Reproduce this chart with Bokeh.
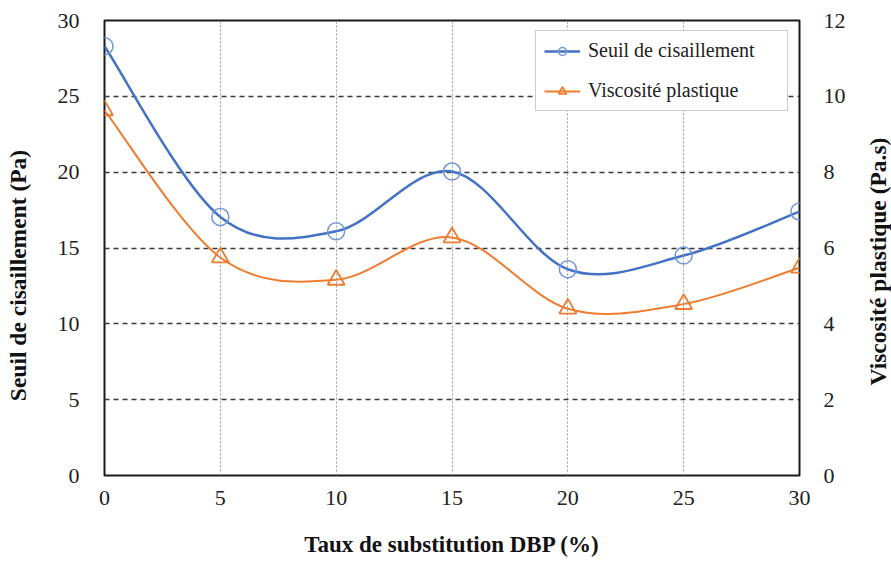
import math
from bokeh.plotting import figure
from bokeh.models import Range1d, LinearAxis, SingleIntervalTicker, Legend, LegendItem, Label
from bokeh.embed import file_html
from bokeh.resources import INLINE

# ---- data ----
taux = [0, 5, 10, 15, 20, 25, 30]
seuil = [28.3, 17.05, 16.1, 20.05, 13.6, 14.5, 17.4]
viscosite = [9.63, 5.75, 5.16, 6.28, 4.4, 4.52, 5.48]
x_ticks = [0, 5, 10, 15, 20, 25, 30]
left_ticks = [0, 5, 10, 15, 20, 25, 30]
right_ticks = [0, 2, 4, 6, 8, 10, 12]

x_title = "Taux de substitution DBP (%)"
left_title = "Seuil de cisaillement (Pa)"
right_title = "Viscosité plastique (Pa.s)"

BLUE = "#4472C4"
BLUE_MK = "#7097DA"
ORANGE = "#ED7D31"
FONT = "Liberation Serif"


def smooth_segments(xs, ys):
    """Catmull-Rom style Bezier control points (Excel-like smoothing)."""
    n = len(xs)
    out = dict(x0=[], y0=[], x1=[], y1=[], cx0=[], cy0=[], cx1=[], cy1=[])
    for i in range(n - 1):
        xp, yp = (xs[i - 1], ys[i - 1]) if i > 0 else (xs[i], ys[i])
        xn2, yn2 = (xs[i + 2], ys[i + 2]) if i + 2 < n else (xs[i + 1], ys[i + 1])
        out["x0"].append(xs[i]); out["y0"].append(ys[i])
        out["x1"].append(xs[i + 1]); out["y1"].append(ys[i + 1])
        out["cx0"].append(xs[i] + (xs[i + 1] - xp) / 6.0)
        out["cy0"].append(ys[i] + (ys[i + 1] - yp) / 6.0)
        out["cx1"].append(xs[i + 1] - (xn2 - xs[i]) / 6.0)
        out["cy1"].append(ys[i + 1] - (yn2 - ys[i]) / 6.0)
    return out


p = figure(width=891, height=562, output_backend="svg", toolbar_location=None,
           x_range=Range1d(0, 30), y_range=Range1d(0, 30),
           min_border_left=104, min_border_right=92, min_border_top=20, min_border_bottom=87)
p.extra_y_ranges = {"right": Range1d(0, 12)}

p.outline_line_color = "#1a1a1a"
p.outline_line_width = 2
p.background_fill_color = "white"
p.border_fill_color = "white"

# grids
p.xgrid.ticker = SingleIntervalTicker(interval=5)
p.ygrid.ticker = SingleIntervalTicker(interval=5)
p.xgrid.grid_line_color = "#9a9a9a"
p.xgrid.grid_line_dash = "2 2"
p.xgrid.grid_line_width = 1
p.ygrid.grid_line_color = "#3a3a3a"
p.ygrid.grid_line_dash = "5 4"
p.ygrid.grid_line_width = 1.5

# axes
p.xaxis.ticker = x_ticks
p.yaxis.ticker = left_ticks
raxis = LinearAxis(y_range_name="right", ticker=right_ticks)
p.add_layout(raxis, "right")

p.xaxis.axis_label = x_title

for ax in [p.xaxis[0], p.yaxis[0], raxis]:
    ax.axis_line_color = None
    ax.major_tick_line_color = None
    ax.minor_tick_line_color = None
    ax.major_label_text_font = FONT
    ax.major_label_text_font_size = "22px"
    ax.major_label_text_color = "#222222"
    ax.axis_label_text_font = FONT
    ax.axis_label_text_font_style = "bold"
    ax.axis_label_text_color = "#111111"

p.xaxis.axis_label_text_font_size = "23px"
p.xaxis.major_label_standoff = 9
p.xaxis.axis_label_standoff = 24
p.yaxis.major_label_standoff = 19
raxis.major_label_standoff = 18

# vertical axis titles as side-panel labels (read bottom to top)
title_style = dict(text_font=FONT, text_font_style="bold", text_color="#111111",
                   text_font_size="23.5px", text_align="center", text_baseline="middle",
                   angle=math.pi / 2, x_units="screen", y_units="screen")
left_lbl = Label(x=-11, y=200, text=left_title, **title_style)
right_lbl = Label(x=29, y=214, text=right_title, **title_style)
p.add_layout(left_lbl, "left")
p.add_layout(right_lbl, "right")

# series 1 (left axis)
s1 = smooth_segments(taux, seuil)
b1 = p.bezier(x0="x0", y0="y0", x1="x1", y1="y1", cx0="cx0", cy0="cy0", cx1="cx1", cy1="cy1",
              source=s1, line_color=BLUE, line_width=2.5)
m1 = p.scatter(taux, seuil, marker="circle", size=17, fill_color=None,
               line_color=BLUE_MK, line_width=1.5)

# series 2 (right axis)
s2 = smooth_segments(taux, viscosite)
b2 = p.bezier(x0="x0", y0="y0", x1="x1", y1="y1", cx0="cx0", cy0="cy0", cx1="cx1", cy1="cy1",
              source=s2, line_color=ORANGE, line_width=2, y_range_name="right")
m2 = p.scatter(taux, viscosite, marker="triangle", size=17, fill_color=None,
               line_color=ORANGE, line_width=1.8, y_range_name="right")

legend = Legend(items=[LegendItem(label="Seuil de cisaillement", renderers=[b1, m1]),
                       LegendItem(label="Viscosité plastique", renderers=[b2, m2])],
                location=(431, 364))
legend.label_text_font = FONT
legend.label_text_font_size = "20px"
legend.label_text_color = "#222222"
legend.border_line_color = "#999999"
legend.border_line_width = 1.5
legend.background_fill_alpha = 1
legend.padding = 8
legend.spacing = 17
legend.glyph_height = 20
legend.label_height = 20
legend.glyph_width = 36
legend.label_standoff = 8
legend.label_width = 191
legend.margin = 0
p.add_layout(legend)

open("out.html", "w").write(file_html(p, INLINE))
